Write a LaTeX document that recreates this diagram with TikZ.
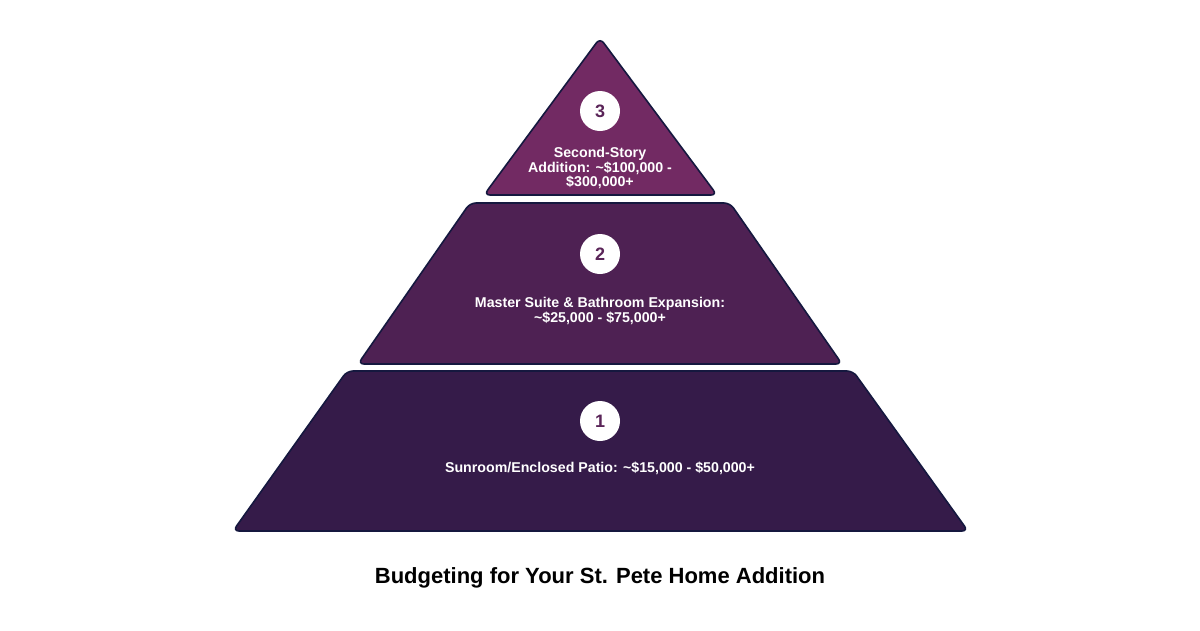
\documentclass[tikz,border=0pt]{standalone}
\usepackage{fontspec}
\setmainfont{Liberation Sans}
\definecolor{c3}{HTML}{722A63}
\definecolor{c2}{HTML}{4E2153}
\definecolor{c1}{HTML}{351B49}
\definecolor{edge}{HTML}{15183F}
\definecolor{num}{HTML}{5A2458}
\tikzset{tier/.style={draw=edge,line width=1.6pt,rounded corners=6pt},
 badge/.style={circle,fill=white,minimum size=40pt,inner sep=0pt,text=num,font=\bfseries\fontsize{18}{18}\selectfont},
 lbl/.style={text=white,align=center,font=\bfseries\fontsize{14.2}{14.5}\selectfont}}
\begin{document}
\begin{tikzpicture}[x=1pt,y=-1pt]
\useasboundingbox (0,0) rectangle (1200,630);
\fill[white] (0,0) rectangle (1200,630);
\draw[tier,fill=c3] (600,38) -- (717,195) -- (484,195) -- cycle;
\draw[tier,fill=c2] (470,203) -- (730,203) -- (842,364) -- (358,364) -- cycle;
\draw[tier,fill=c1] (347,371) -- (853,371) -- (968,531) -- (233,531) -- cycle;
\node[badge] (b3) at (600,111) {3};
\node[badge] (b2) at (600,254) {2};
\node[badge] (b1) at (600,421) {1};
\node[lbl] (l3) at (600,168) {Second-Story\\Addition: \textasciitilde\$100,000 -\\\$300,000+};
\node[lbl] (l2) at (600,311) {Master Suite \& Bathroom Expansion:\\\textasciitilde\$25,000 - \$75,000+};
\node[lbl] (l1) at (600,468) {Sunroom/Enclosed Patio: \textasciitilde\$15,000 - \$50,000+};
\node[font=\bfseries\fontsize{22}{24}\selectfont] (t) at (600,578) {Budgeting for Your St. Pete Home Addition};
\end{tikzpicture}
\end{document}
